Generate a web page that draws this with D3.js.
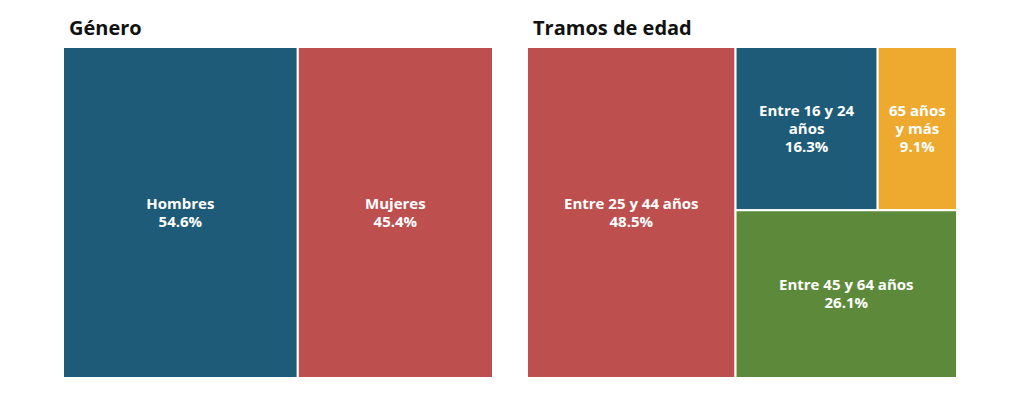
<!DOCTYPE html>
<html><head><meta charset="utf-8">
<script src="https://cdn.jsdelivr.net/npm/d3@7"></script>
<style>body{margin:0;background:#fff}text{font-family:"Open Sans",sans-serif;font-weight:700}</style>
</head><body><svg id="c" width="1024" height="402"></svg>
<script>
const genderNames = ['Hombres', 'Mujeres']
const genderValues = [54.6, 45.4]
const genderColors = ['#1e5b78', '#bd4f4f']
const ageNames = ['Entre 25 y 44 años', 'Entre 16 y 24 años', '65 años y más', 'Entre 45 y 64 años']
const ageValues = [48.5, 16.3, 9.1, 26.1]
const ageColors = ['#bd4f4f', '#1e5b78', '#eea92f', '#5c8a3a']

const svg = d3.select('#c')

function wrap (text, maxW) {
  const words = text.split(' ')
  const lines = []
  let cur = ''
  const ctx = document.createElement('canvas').getContext('2d')
  ctx.font = '700 15px "Open Sans"'
  words.forEach(w => {
    const t = cur ? cur + ' ' + w : w
    if (ctx.measureText(t).width > maxW && cur) { lines.push(cur); cur = w } else cur = t
  })
  lines.push(cur)
  return lines
}

function draw (tree, x0, title) {
  const root = d3.hierarchy(tree).sum(d => d.value || 0)
  d3.treemap().tile(d3.treemapSliceDice).size([430, 331]).paddingInner(0)(root)
  const g = svg.append('g').attr('transform', `translate(${x0},47)`)
  svg.append('text').attr('x', x0 + 6).attr('y', 35).attr('font-size', 20).attr('fill', '#111').text(title)
  const leaves = g.selectAll('g').data(root.leaves()).join('g')
  leaves.append('rect')
    .attr('x', d => d.x0).attr('y', d => d.y0)
    .attr('width', d => d.x1 - d.x0).attr('height', d => d.y1 - d.y0)
    .attr('fill', d => d.data.color).attr('stroke', '#fff').attr('stroke-width', 2)
  leaves.each(function (d) {
    const lines = wrap(d.data.name, d.x1 - d.x0 - 16)
    lines.push(d.data.value.toFixed(1) + '%')
    const cy = (d.y0 + d.y1) / 2 - (lines.length - 1) * 18 / 2
    d3.select(this).append('text').attr('text-anchor', 'middle').attr('fill', '#fff').attr('font-size', 15)
      .selectAll('tspan').data(lines).join('tspan')
      .attr('x', (d.x0 + d.x1) / 2).attr('y', (l, i) => cy + i * 18 + 5).text(l => l)
  })
}

draw({ children: genderNames.map((n, i) => ({ name: n, value: genderValues[i], color: genderColors[i] })) }, 63, 'Género')

const a = ageNames.map((n, i) => ({ name: n, value: ageValues[i], color: ageColors[i] }))
draw({ children: [a[0], { children: [{ children: [a[1], a[2]] }, a[3]] }] }, 527, 'Tramos de edad')
</script></body></html>
